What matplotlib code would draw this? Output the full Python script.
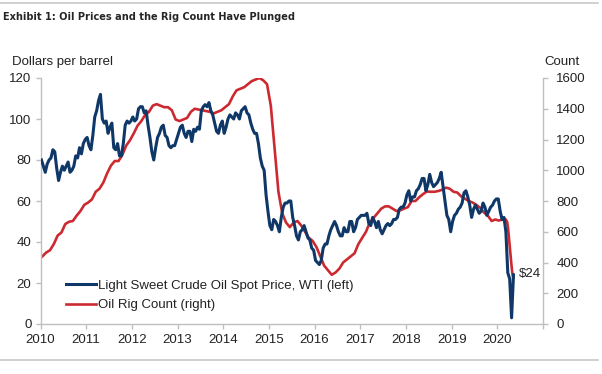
import numpy as np
import matplotlib
matplotlib.use("Agg")
import matplotlib.pyplot as plt
from matplotlib.lines import Line2D
from matplotlib import font_manager as fm

# ---------------- data ----------------
# WTI spot price, two readings per month (dollars per barrel), Jan 2010 - early May 2020
wti_2010 = [80, 77, 74, 78, 80, 81, 85, 84, 76, 70, 74, 77, 75, 77, 79, 74, 75, 77, 82, 81, 86, 83, 88, 90]
wti_2011 = [91, 87, 85, 92, 101, 104, 109, 112, 100, 98, 99, 93, 96, 98, 86, 85, 88, 82, 82, 88, 97, 99, 98, 99]
wti_2012 = [101, 99, 100, 105, 106, 106, 103, 104, 97, 91, 84, 80, 86, 91, 93, 96, 97, 92, 91, 87, 86, 87, 87, 90]
wti_2013 = [93, 96, 97, 93, 91, 94, 94, 89, 95, 94, 96, 95, 104, 106, 107, 106, 108, 104, 102, 98, 94, 93, 97, 99]
wti_2014 = [93, 96, 100, 102, 101, 100, 103, 102, 100, 104, 105, 106, 103, 102, 98, 95, 93, 93, 88, 81, 77, 75, 63, 55]
wti_2015 = [48, 46, 51, 50, 48, 45, 52, 57, 59, 59, 60, 60, 52, 48, 43, 41, 45, 46, 48, 45, 42, 41, 37, 36]
wti_2016 = [31, 30, 29, 31, 37, 39, 39, 43, 46, 48, 50, 48, 45, 43, 43, 47, 45, 45, 50, 50, 45, 47, 51, 52]
wti_2017 = [53, 53, 53, 54, 49, 48, 52, 50, 47, 50, 46, 44, 46, 48, 49, 48, 49, 51, 51, 52, 56, 57, 57, 59]
wti_2018 = [63, 65, 60, 62, 62, 65, 66, 68, 71, 71, 65, 68, 73, 69, 67, 68, 69, 71, 74, 67, 60, 53, 51, 45]
wti_2019 = [50, 53, 54, 56, 57, 59, 64, 65, 62, 58, 52, 56, 58, 56, 54, 55, 59, 57, 53, 55, 57, 58, 60, 61]
wti_2020 = [61, 55, 51, 52, 45, 25, 22, 3, 24]
wti = wti_2010 + wti_2011 + wti_2012 + wti_2013 + wti_2014 + wti_2015 + wti_2016 + wti_2017 + wti_2018 + wti_2019 + wti_2020

# Oil rig count, one reading per month (2010 - 2019), then weekly in 2020
rig_2010 = [440, 465, 480, 520, 575, 595, 650, 665, 670, 705, 735, 775]
rig_2011 = [790, 810, 860, 880, 920, 980, 1030, 1060, 1060, 1100, 1160, 1195]
rig_2012 = [1240, 1290, 1320, 1360, 1380, 1420, 1430, 1420, 1410, 1410, 1390, 1330]
rig_2013 = [1320, 1330, 1340, 1380, 1400, 1395, 1390, 1385, 1380, 1370, 1380, 1390]
rig_2014 = [1410, 1430, 1480, 1520, 1530, 1540, 1560, 1580, 1590, 1600, 1585, 1560]
rig_2015 = [1420, 1140, 860, 720, 660, 630, 660, 670, 640, 600, 560, 540]
rig_2016 = [500, 440, 380, 350, 320, 335, 360, 400, 420, 440, 460, 520]
rig_2017 = [560, 600, 660, 690, 720, 750, 765, 765, 750, 735, 740, 750]
rig_2018 = [760, 800, 800, 825, 845, 862, 860, 860, 865, 873, 887, 880]
rig_2019 = [860, 855, 830, 815, 800, 790, 775, 755, 725, 705, 670, 680]
rig_monthly = rig_2010 + rig_2011 + rig_2012 + rig_2013 + rig_2014 + rig_2015 + rig_2016 + rig_2017 + rig_2018 + rig_2019
rig_2020_dates = ["2020-01-10", "2020-02-07", "2020-03-06", "2020-03-20", "2020-03-27", "2020-04-03",
                  "2020-04-10", "2020-04-17", "2020-04-24", "2020-05-01", "2020-05-08"]
rig_2020 = [673, 678, 682, 664, 624, 562, 504, 438, 378, 325, 300]

year_ticks = list(range(2010, 2022))
year_labels = [str(y) for y in range(2010, 2021)] + [""]
left_ticks = [0, 20, 40, 60, 80, 100, 120]
right_ticks = [0, 200, 400, 600, 800, 1000, 1200, 1400, 1600]

# ---------------- time axes (decimal years) ----------------
def dec_year(date_str):
    d = np.datetime64(date_str)
    y = d.astype("datetime64[Y]")
    start = y.astype("datetime64[D]")
    end = (y + 1).astype("datetime64[D]")
    return 1970 + y.astype(int) + (d - start).astype(int) / (end - start).astype(int)

wti_t = np.array([2010 + i / 24 + 1 / 48 for i in range(len(wti))])
rig_t = np.array([2010 + (i + 0.5) / 12 for i in range(len(rig_monthly))] +
                 [dec_year(s) for s in rig_2020_dates])
rig = np.array(rig_monthly + rig_2020)

# ---------------- figure ----------------
BLUE = "#0f3868"
RED = "#cc2a30"
GRAY = "#bfbfbf"
TXT = "#222222"
FONT = ["Liberation Sans", "Arial", "DejaVu Sans"]

plt.rcParams["font.family"] = FONT
fig = plt.figure(figsize=(6.02, 3.74), dpi=100)
ax = fig.add_axes([40.5 / 602, 50 / 374, (543 - 40.5) / 602, (324 - 78) / 374])
ax2 = ax.twinx()

ax.plot(wti_t, wti, color=BLUE, lw=2.2, solid_joinstyle="round", zorder=3)
ax2.plot(rig_t, rig, color=RED, lw=1.9, solid_joinstyle="round", zorder=2)
ax.set_zorder(ax2.get_zorder() + 1)
ax.patch.set_visible(False)

ax.set_xlim(2010, 2021)
ax.set_ylim(0, 120)
ax2.set_ylim(0, 1600)
ax.set_xticks(year_ticks)
ax.set_xticklabels(year_labels)
ax.set_yticks(left_ticks)
ax2.set_yticks(right_ticks)

for a in (ax, ax2):
    for s in a.spines.values():
        s.set_visible(False)
ax.spines["left"].set_visible(True)
ax.spines["bottom"].set_visible(True)
ax2.spines["right"].set_visible(True)
for s in (ax.spines["left"], ax.spines["bottom"], ax2.spines["right"]):
    s.set_color(GRAY)
    s.set_linewidth(1.0)

ax.tick_params(axis="both", direction="out", length=3.5, width=1, color=GRAY,
               labelsize=9.5, labelcolor=TXT, pad=3)
ax.tick_params(axis="x", pad=4)
ax2.tick_params(axis="y", direction="out", length=3.5, width=1, color=GRAY,
                labelsize=9.5, labelcolor=TXT, pad=6)

# axis titles
fig.text(12 / 602, 1 - 62 / 374, "Dollars per barrel", fontsize=9.5, color=TXT,
         ha="left", va="center")
fig.text(580 / 602, 1 - 62 / 374, "Count", fontsize=9.5, color=TXT,
         ha="right", va="center")

# title (condensed bold if a condensed face is installed) and rules
cond = None
for f in fm.fontManager.ttflist:
    if ("Narrow" in f.name or "Condensed" in f.name or f.stretch in ("condensed", 300)) and \
       (f.weight in ("bold", 700) or "Bold" in f.fname):
        cond = f.fname
        break
title_kw = dict(color="#262626", ha="left", va="center")
if cond:
    title_kw["fontproperties"] = fm.FontProperties(fname=cond, size=7.8)
else:
    title_kw["fontsize"] = 8.3
    title_kw["fontweight"] = "bold"
fig.text(3 / 602, 1 - 17 / 374, "Exhibit 1: Oil Prices and the Rig Count Have Plunged", **title_kw)
fig.add_artist(Line2D([0, 598 / 602], [1 - 3 / 374, 1 - 3 / 374], color="#c8c8c8", lw=1.2))
fig.add_artist(Line2D([0, 598 / 602], [1 - 360 / 374, 1 - 360 / 374], color="#c8c8c8", lw=1.2))

# annotation
ax2.annotate("$24", xy=(rig_t[-1], rig[-1]), xytext=(4, 3), textcoords="offset points",
             fontsize=9.5, color=TXT, ha="left", va="center")

# legend
handles = [Line2D([], [], color=BLUE, lw=2.2), Line2D([], [], color=RED, lw=1.9)]
ax.legend(handles, ["Light Sweet Crude Oil Spot Price, WTI (left)", "Oil Rig Count (right)"],
          loc="lower left", bbox_to_anchor=(0.035, 0.02), frameon=False, fontsize=9.5,
          handlelength=2.3, handletextpad=0.1, labelspacing=0.55, borderaxespad=0.2,
          labelcolor=TXT)

fig.savefig("out.png", dpi=100, facecolor="white")
